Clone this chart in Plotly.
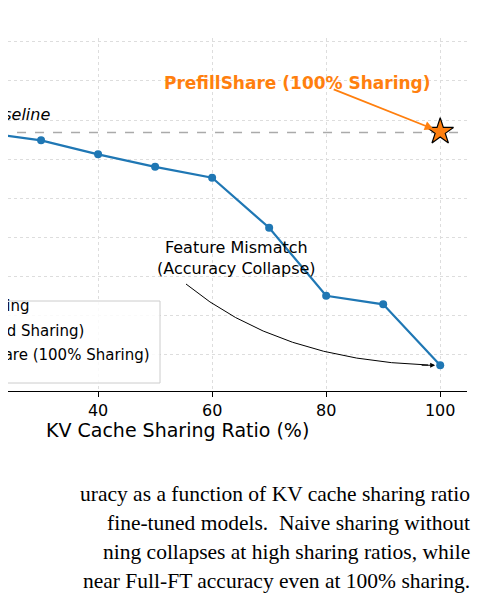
import plotly.graph_objects as go

ratios = [20, 30, 40, 50, 60, 70, 80, 90, 100]
naive_acc = [68.4, 67.4, 65.6, 64.0, 62.6, 56.2, 47.5, 46.4, 38.6]
baseline_acc = 68.4
prefill_x = [100]
prefill_acc = [68.5]
x_ticks = [20, 40, 60, 80, 100]
y_ticks = [40, 45, 50, 55, 60, 65, 70, 75, 80]
legend_labels = ["Full-FT Baseline Accuracy, No Sharing", "Naive KV Cache Sharing (Mixed Sharing)",
                 "PrefillShare (100% Sharing)"]
caption = ["uracy as a function of KV cache sharing ratio",
           "fine-tuned models.  Naive sharing without",
           "ning collapses at high sharing ratios, while",
           "near Full-FT accuracy even at 100% sharing."]

W, H = 487, 613
L, R, T, B = 0, 28, 30, 230
PW, PH = W - L - R, H - T - B
def px(x): return x / PW
def py(y): return (383 - y) / PH

fig = go.Figure()
fig.add_trace(go.Scatter(x=[10, 110], y=[baseline_acc]*2, mode="lines",
                         line=dict(color="#aaaaaa", dash="dash", width=1.6)))
fig.add_trace(go.Scatter(x=ratios, y=naive_acc, mode="lines+markers",
                         line=dict(color="#1f77b4", width=2.2), marker=dict(size=8, color="#1f77b4")))
fig.add_trace(go.Scatter(x=prefill_x, y=prefill_acc, mode="markers",
                         marker=dict(symbol="star", size=20, color="#ff7f0e", line=dict(color="black", width=1.2))))

grid = dict(showgrid=True, gridcolor="#dddddd", griddash="dot", gridwidth=1, zeroline=False)
fig.update_xaxes(range=[24.2, 104.7], tickvals=x_ticks, ticks="outside", ticklen=5, tickcolor="black",
                 showline=True, linecolor="black", linewidth=1.3,
                 tickfont=dict(family="DejaVu Sans", size=16, color="black"), **grid)
fig.update_yaxes(range=[35.3, 80.5], tickvals=y_ticks, showticklabels=False, showline=False, **grid)

ann = []
ann.append(dict(x=px(44), y=py(107), xref="paper", yref="paper", text="<i>Full-FT Baseline</i>", showarrow=False,
                xanchor="right", yanchor="middle", font=dict(family="DejaVu Sans", size=16, color="black")))
ann.append(dict(x=100, y=prefill_acc[0], ax=-108, ay=-43, xref="x", yref="y",
                text="", showarrow=True, arrowhead=2, arrowcolor="#ff7f0e", arrowwidth=1.8, standoff=7))
ann.append(dict(x=px(289), y=py(63), xref="paper", yref="paper", text="<b>PrefillShare (100% Sharing)</b>",
                showarrow=False, font=dict(family="DejaVu Sans", size=17, color="#ff7f0e")))
ann.append(dict(x=px(147), y=py(250), xref="paper", yref="paper",
                text="Feature Mismatch<br>(Accuracy Collapse)", showarrow=False,
                font=dict(family="DejaVu Sans", size=16, color="black")))
fig.add_shape(type="path", xref="paper", yref="paper",
              path=f"M {px(178)},{py(276)} Q {px(270)},{py(352)} {px(420)},{py(357)}",
              line=dict(color="black", width=1))
ann.append(dict(x=100, y=naive_acc[-1], xref="x", yref="y", ax=-20, ay=0, text="", showarrow=True,
                arrowhead=2, arrowwidth=1, arrowcolor="black", standoff=5))
# legend box (cut at left edge)
fig.add_shape(type="rect", xref="paper", yref="paper", x0=px(-200), x1=px(152), y0=py(375), y1=py(293),
              line=dict(color="#cccccc", width=1), fillcolor="rgba(255,255,255,0.85)", layer="above")
for lab, xr, yy in zip(legend_labels, [24, 78, 144], [309, 334, 358]):
    ann.append(dict(x=px(xr), y=py(yy), xref="paper", yref="paper", text=lab, showarrow=False,
                    xanchor="right", font=dict(family="DejaVu Sans", size=15, color="black")))
ann.append(dict(x=px(303), y=py(435), xref="paper", yref="paper", text="KV Cache Sharing Ratio (%)",
                showarrow=False, xanchor="right", font=dict(family="DejaVu Sans", size=19, color="black")))
for i, line in enumerate(caption):
    ann.append(dict(x=px(464), y=py(486 + i*29), xref="paper", yref="paper", text=line, showarrow=False,
                    xanchor="right", yanchor="middle", font=dict(family="Liberation Serif", size=21.5, color="black")))
fig.update_layout(width=W, height=H, margin=dict(l=L, r=R, t=T, b=B), plot_bgcolor="white", paper_bgcolor="white",
                  annotations=ann, showlegend=False)
fig.write_html("out.html")
